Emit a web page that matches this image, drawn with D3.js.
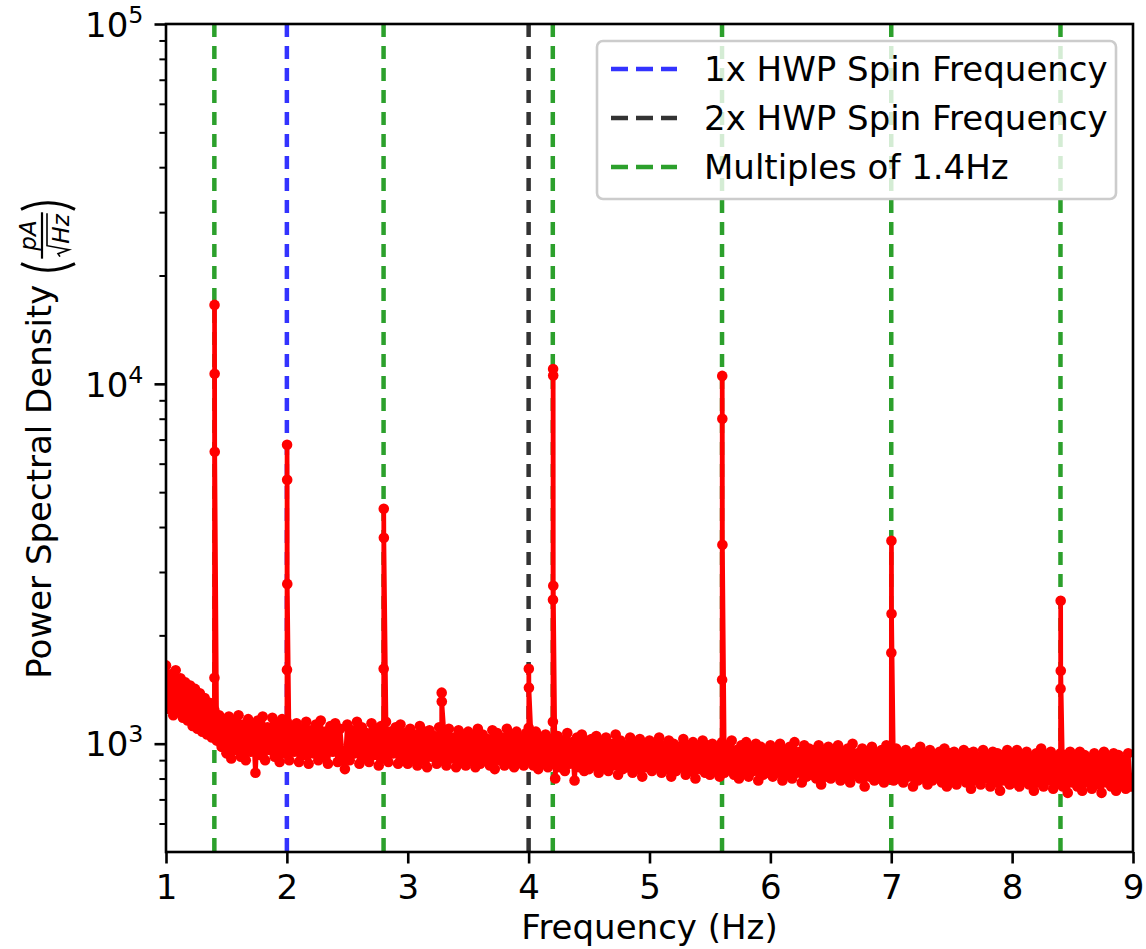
<!DOCTYPE html>
<html>
<head>
<meta charset="utf-8">
<script src="https://cdn.jsdelivr.net/npm/d3@7"></script>
<style>
body { margin: 0; background: #fff; }
text { font-family: "DejaVu Sans", sans-serif; }
</style>
</head>
<body>
<script>
// noise floor of the PSD, one value every 0.02 Hz from 1.00 to 9.00 Hz
const noiseStart = 1.0;
const noiseStep = 0.02;
const noiseValues = [
  1650, 1250, 1560, 1200, 1600, 1230, 1520, 1180, 1480, 1160, 1450, 1120, 1420, 1100, 1380, 1080, 1340, 1060, 1300, 1040, 1240, 1020, 1200, 980, 1170,
  940, 1190, 910, 1150, 960, 1200, 920, 1130, 900, 1170, 950, 1120, 830, 1160, 930, 1190, 900, 1110, 960, 1180, 920, 1140, 890, 1170, 940,
  1150, 900, 1120, 950, 1140, 890, 1100, 930, 1150, 880, 1090, 940, 1130, 900, 1160, 920, 1080, 880, 1120, 950, 1140, 890, 1100, 920, 850,
  1130, 900, 1090, 940, 1150, 880, 1110, 920, 1070, 890, 1140, 930, 1100, 870, 1120, 910, 1150, 890, 1080, 940, 1110, 880, 1130, 900, 1070,
  880, 1100, 910, 1060, 870, 1120, 900, 1080, 860, 1090, 920, 1050, 880, 1110, 900, 1070, 870, 1100, 910, 1040, 860, 1090, 890, 1060, 870,
  1080, 900, 1050, 860, 1100, 880, 1060, 910, 1030, 870, 1090, 850, 1070, 900, 1040, 870, 1100, 890, 1060, 860, 1080, 900, 1030, 870, 1070,
  900, 1050, 870, 1080, 850, 1040, 890, 1060, 860, 1030, 880, 800, 1050, 860, 1020, 840, 1070, 880, 1010, 790, 1040, 860, 1060, 840, 1020,
  850, 1030, 870, 1050, 830, 1010, 860, 1040, 840, 1000, 870, 1060, 820, 1020, 850, 990, 860, 1040, 830, 1010, 850, 1030, 810, 1000, 860,
  1020, 840, 1000, 860, 1040, 830, 990, 850, 1020, 810, 1000, 840, 980, 860, 1030, 820, 990, 840, 1010, 800, 980, 850, 1020, 830, 990,
  820, 1000, 840, 970, 810, 1010, 830, 980, 850, 1020, 820, 960, 800, 990, 830, 1010, 810, 970, 840, 1000, 790, 980, 820, 960, 830,
  990, 810, 970, 830, 1000, 790, 960, 820, 980, 800, 1010, 830, 950, 780, 990, 810, 970, 820, 960, 800, 990, 770, 950, 810, 980,
  800, 960, 820, 990, 790, 950, 810, 970, 780, 1000, 820, 940, 800, 970, 760, 950, 810, 980, 790, 940, 800, 960, 780, 990, 810,
  950, 790, 970, 800, 940, 780, 960, 810, 930, 760, 950, 790, 980, 800, 940, 770, 960, 790, 930, 810, 950, 780, 970, 760, 940,
  790, 950, 770, 930, 800, 960, 780, 940, 750, 950, 790, 920, 770, 960, 800, 930, 760, 950, 780, 940, 740, 930, 790, 960, 770,
  940, 780, 960, 760, 930, 790, 950, 770, 920, 740, 940, 780, 970, 760, 930, 790, 950, 750, 920, 780, 940, 760, 930, 730, 950,
  780, 920, 760, 950, 740, 930, 780, 910, 750, 940, 770, 920, 730, 950, 780, 910, 760, 940, 740, 930, 770, 900, 750, 940, 760,
  800
];

// spikes: frequency (Hz) and the samples that sit on each spike
const peakFreqs = [1.4, 2.0, 2.8, 3.28, 4.0, 4.2, 5.6, 7.0, 8.4];
const peakValues = [
  [1525, 16570, 10660, 6475],
  [1605, 6770, 5410, 2780],
  [1615, 4495, 3735],
  [1386, 1309],
  [1107, 1615, 1431],
  [1151, 2512, 11000, 10550, 2748],
  [1506, 10520, 7995, 3572],
  [1790, 3664, 2296],
  [1422, 2495, 1595]
];

// reference lines
const spin1x = [2.0];
const spin2x = [4.0];
const multiples14 = [1.4, 2.8, 4.2, 5.6, 7.0, 8.4];
const legendLabels = ["1x HWP Spin Frequency", "2x HWP Spin Frequency", "Multiples of 1.4Hz"];
const legendColors = ["#3333ff", "#333333", "#2ca02c"];

const xTicks = [1, 2, 3, 4, 5, 6, 7, 8, 9];
const yMajor = [1e3, 1e4, 1e5];
const yMinor = [600, 700, 800, 900, 2000, 3000, 4000, 5000, 6000, 7000, 8000, 9000,
  20000, 30000, 40000, 50000, 60000, 70000, 80000, 90000];

const W = 1146, H = 949;
const pLeft = 166, pRight = 1133, pTop = 24, pBottom = 852;
const fs = 34;

// build the series: noise grid plus spike samples after their grid point
const data = [];
noiseValues.forEach((v, i) => {
  const f = +(noiseStart + i * noiseStep).toFixed(2);
  data.push({f: f, v: v});
  peakFreqs.forEach((pf, j) => {
    if (Math.abs(pf - f) < 1e-6) {
      peakValues[j].forEach((pv, k) => data.push({f: pf + (k + 1) * 0.0008, v: pv}));
    }
  });
});

const x = d3.scaleLinear().domain([1, 9]).range([pLeft, pRight]);
const y = d3.scaleLog().domain([500, 1e5]).range([pBottom, pTop]);

const svg = d3.select("body").append("svg")
  .attr("width", W)
  .attr("height", H);

svg.append("defs").append("clipPath").attr("id", "plotclip")
  .append("rect")
  .attr("x", pLeft).attr("y", pTop)
  .attr("width", pRight - pLeft).attr("height", pBottom - pTop);

// dashed reference lines
const vlines = [];
multiples14.forEach(f => vlines.push({f: f, c: legendColors[2]}));
spin1x.forEach(f => vlines.push({f: f, c: legendColors[0]}));
spin2x.forEach(f => vlines.push({f: f, c: legendColors[1]}));

svg.append("g").selectAll("line")
  .data(vlines)
  .enter()
  .append("line")
  .attr("x1", d => x(d.f))
  .attr("x2", d => x(d.f))
  .attr("y1", pTop)
  .attr("y2", pBottom)
  .attr("stroke", d => d.c)
  .attr("stroke-width", 4.5)
  .attr("stroke-dasharray", "13,9");

// PSD line with markers
const plot = svg.append("g").attr("clip-path", "url(#plotclip)");
plot.append("path")
  .datum(data)
  .attr("fill", "none")
  .attr("stroke", "#ff0000")
  .attr("stroke-width", 4.7)
  .attr("stroke-linejoin", "round")
  .attr("d", d3.line().x(d => x(d.f)).y(d => y(d.v)));

plot.selectAll("circle")
  .data(data)
  .enter()
  .append("circle")
  .attr("cx", d => x(d.f))
  .attr("cy", d => y(d.v))
  .attr("r", 5.3)
  .attr("fill", "#ff0000");

// axes
const xAxis = svg.append("g")
  .attr("transform", `translate(0,${pBottom})`)
  .call(d3.axisBottom(x).tickValues(xTicks).tickSize(11.5).tickPadding(11).tickFormat(d3.format("d")));

const yMinorAxis = svg.append("g")
  .attr("transform", `translate(${pLeft},0)`)
  .call(d3.axisLeft(y).tickValues(yMinor).tickSize(6.6).tickFormat(() => ""));

const yAxis = svg.append("g")
  .attr("transform", `translate(${pLeft},0)`)
  .call(d3.axisLeft(y).tickValues(yMajor).tickSize(11.5).tickPadding(11).tickFormat(() => ""));

[xAxis, yAxis, yMinorAxis].forEach(a => {
  a.select(".domain").remove();
  a.selectAll(".tick line").attr("stroke", "#000").attr("stroke-width", 2.6);
});
yMinorAxis.selectAll(".tick line").attr("stroke-width", 2);

xAxis.selectAll(".tick text")
  .attr("font-size", fs)
  .attr("fill", "#000")
  .attr("font-family", "DejaVu Sans");

yAxis.selectAll(".tick text")
  .attr("font-size", fs)
  .attr("fill", "#000")
  .attr("font-family", "DejaVu Sans")
  .attr("dy", "0.36em")
  .each(function(d) {
    const t = d3.select(this);
    t.text(null);
    t.append("tspan").text("10");
    t.append("tspan")
      .attr("font-size", fs * 0.7)
      .attr("dy", -14)
      .text(Math.round(Math.log10(d)));
  });

// frame
svg.append("rect")
  .attr("x", pLeft).attr("y", pTop)
  .attr("width", pRight - pLeft).attr("height", pBottom - pTop)
  .attr("fill", "none")
  .attr("stroke", "#000")
  .attr("stroke-width", 2.6);

// x label
svg.append("text")
  .attr("x", (pLeft + pRight) / 2)
  .attr("y", 939)
  .attr("text-anchor", "middle")
  .attr("font-size", fs)
  .text("Frequency (Hz)");

// y label with the pA / sqrt(Hz) fraction
const yl = svg.append("g").attr("transform", `translate(51,${(pTop + pBottom) / 2}) rotate(-90)`);
const ylin = yl.append("g");
const t1 = ylin.append("text").attr("font-size", fs).text("Power Spectral Density");
const w1 = t1.node().getComputedTextLength() + 11;
const mfs = 23;
const num = ylin.append("text").attr("font-size", mfs).attr("font-style", "italic")
  .attr("text-anchor", "middle").text("pA");
const den = ylin.append("text").attr("font-size", mfs).attr("font-style", "italic").text("Hz");
const numW = num.node().getComputedTextLength();
const denW = den.node().getComputedTextLength() + 13;
const fw = Math.max(numW, denW) + 4;
const fx = w1 + 15;
num.attr("x", fx + fw / 2).attr("y", -15);
den.attr("x", fx + (fw - denW) / 2 + 13).attr("y", 18);
const rx = fx + (fw - denW) / 2;
ylin.append("path")
  .attr("d", `M${rx},9 L${rx + 3},7 L${rx + 7},18 L${rx + 11},-4 H${fx + fw - 1}`)
  .attr("fill", "none").attr("stroke", "#000").attr("stroke-width", 1.6);
ylin.append("line")
  .attr("x1", fx).attr("x2", fx + fw).attr("y1", -9).attr("y2", -9)
  .attr("stroke", "#000").attr("stroke-width", 2.2);
ylin.append("path")
  .attr("d", `M${w1 + 10},-30 Q${w1 - 3},-3 ${w1 + 10},24`)
  .attr("fill", "none").attr("stroke", "#000").attr("stroke-width", 3);
const cx = fx + fw + 3;
ylin.append("path")
  .attr("d", `M${cx},-30 Q${cx + 13},-3 ${cx},24`)
  .attr("fill", "none").attr("stroke", "#000").attr("stroke-width", 3);
const total = cx + 12;
ylin.attr("transform", `translate(${-total / 2},0)`);

// legend
const lg = svg.append("g");
lg.append("rect")
  .attr("x", 597).attr("y", 41)
  .attr("width", 519).attr("height", 158)
  .attr("rx", 6)
  .attr("fill", "#fff").attr("fill-opacity", 0.8)
  .attr("stroke", "#cccccc").attr("stroke-width", 2.6);

const rows = lg.selectAll("g.row")
  .data(legendLabels)
  .enter()
  .append("g")
  .attr("class", "row")
  .attr("transform", (d, i) => `translate(0,${69 + i * 49})`);

rows.append("line")
  .attr("x1", 611).attr("x2", 677)
  .attr("stroke", (d, i) => legendColors[i])
  .attr("stroke-width", 4.5)
  .attr("stroke-dasharray", "17,8");

rows.append("text")
  .attr("x", 704)
  .attr("y", 12)
  .attr("font-size", fs)
  .text(d => d);
</script>
</body>
</html>
